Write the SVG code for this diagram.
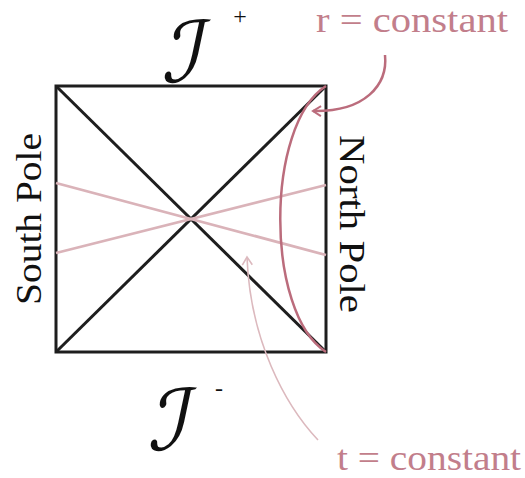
<svg xmlns="http://www.w3.org/2000/svg" width="525" height="478" viewBox="0 0 525 478">
<style>
.frame{fill:none;stroke:#1e1e1e;stroke-width:3;stroke-linejoin:miter}
.diag{stroke:#1e1e1e;stroke-width:3}
.tline{stroke:#dab3b9;stroke-width:2.8;fill:none}
.rcurve{stroke:#bb6c7c;stroke-width:2.5;fill:none}
.lbl{font-family:"Liberation Serif","DejaVu Serif",serif;fill:#111}
.rlbl{font-family:"Liberation Serif","DejaVu Serif",serif;fill:#c27e8b}
.scri{font-family:"DejaVu Serif","DejaVu Sans",serif;fill:#111}
</style>
<defs>
<marker id="ahR" viewBox="0 0 12 12" refX="10" refY="6" markerWidth="12" markerHeight="12" markerUnits="userSpaceOnUse" orient="auto">
<path d="M2,1 L10,6 L2,11" fill="none" stroke="#bb6c7c" stroke-width="2"/>
</marker>
<marker id="ahT" viewBox="0 0 12 12" refX="10" refY="6" markerWidth="12" markerHeight="12" markerUnits="userSpaceOnUse" orient="auto">
<path d="M2,1 L10,6 L2,11" fill="none" stroke="#dcb9be" stroke-width="1.6"/>
</marker>
</defs>
<g id="diagram-frame">
<rect class="frame" x="56" y="86" width="270" height="266"/>
<line class="diag" x1="56" y1="86" x2="326" y2="352"/>
<line class="diag" x1="326" y1="86" x2="56" y2="352"/>
</g>
<g id="connectors">
<line class="tline" x1="56" y1="183" x2="326" y2="255"/>
<line class="tline" x1="56" y1="253" x2="326" y2="185"/>
<path class="rcurve" d="M326,86 C265,125 265,313 326,352"/>
<path class="rcurve" d="M385,55 C388,85 365,112 313,111" marker-end="url(#ahR)"/>
<path d="M318,440 C285,405 250,340 247,257" fill="none" stroke="#dcb9be" stroke-width="1.6" marker-end="url(#ahT)"/>
</g>
<g id="scri-plus">
<text class="scri" font-size="85" transform="translate(161,82) skewX(-12)">ℐ</text>
<text class="lbl" x="240" y="24" font-size="24" text-anchor="middle">+</text>
</g>
<g id="scri-minus">
<text class="scri" font-size="85" transform="translate(147,450) skewX(-12)">ℐ</text>
<text class="lbl" x="219" y="396" font-size="24" text-anchor="middle">-</text>
</g>
<g id="south-pole">
<text class="lbl" font-size="36" text-anchor="middle" transform="translate(41,219) rotate(-90)" textLength="172" lengthAdjust="spacingAndGlyphs">South Pole</text>
</g>
<g id="north-pole">
<text class="lbl" font-size="36" text-anchor="middle" transform="translate(340,224) rotate(90)" textLength="178" lengthAdjust="spacingAndGlyphs">North Pole</text>
</g>
<g id="r-label">
<text class="rlbl" x="316" y="32" font-size="36" textLength="192" lengthAdjust="spacingAndGlyphs">r = constant</text>
</g>
<g id="t-label">
<text class="rlbl" x="337" y="470" font-size="36" textLength="184" lengthAdjust="spacingAndGlyphs">t = constant</text>
</g>
</svg>
